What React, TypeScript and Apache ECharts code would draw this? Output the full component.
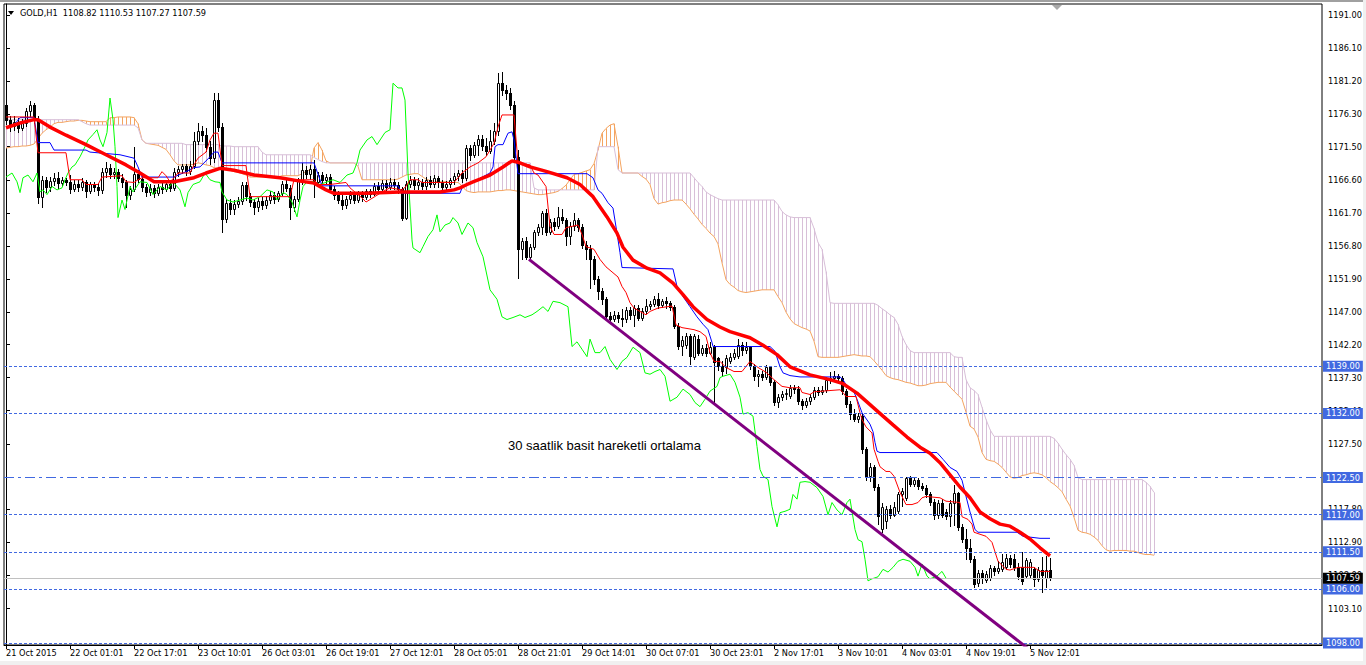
import React, { useEffect, useRef } from 'react';
import * as echarts from 'echarts';

const symbolName = 'GOLD,H1';
const lastOHLC = [1108.82, 1110.53, 1107.27, 1107.59];
const noteText = '30 saatlik basit hareketli ortalama';
const notePos = [125.5, 1127.2];

const timeTickBars = [0, 16, 32, 48, 64, 80, 96, 112, 128, 144, 160, 176, 192, 208, 224, 240, 256];
const timeTickLabels = ['21 Oct 2015', '22 Oct 01:01', '22 Oct 17:01', '23 Oct 10:01', '26 Oct 03:01', '26 Oct 19:01', '27 Oct 12:01', '28 Oct 05:01', '28 Oct 21:01', '29 Oct 14:01', '30 Oct 07:01', '30 Oct 23:01', '2 Nov 17:01', '3 Nov 10:01', '4 Nov 03:01', '4 Nov 19:01', '5 Nov 12:01'];
const priceTicks = [1191.0, 1186.1, 1181.2, 1176.3, 1171.5, 1166.6, 1161.7, 1156.8, 1151.9, 1147.0, 1142.2, 1137.3, 1132.4, 1127.5, 1122.6, 1117.8, 1112.9, 1108.0, 1103.1];

const dottedLevels = [1139.0, 1132.0, 1117.0, 1111.5, 1106.0, 1098.0];
const dashDotLevel = 1122.5;
const bidPrice = 1107.59;

// [open, close, low, high] per H1 bar
const candles = [
[1177.6,1175.5,1174.8,1178.2],[1175.5,1174.5,1173.8,1176.0],[1174.5,1175.2,1174.0,1176.0],[1175.2,1174.3,1173.6,1175.8],[1174.3,1175.0,1173.9,1175.6],
[1175.0,1176.8,1174.6,1177.3],[1176.8,1177.6,1176.0,1178.2],[1177.6,1175.6,1175.0,1178.0],[1175.6,1164.0,1163.2,1176.0],[1164.0,1166.5,1162.5,1167.2],
[1166.5,1165.6,1164.8,1167.0],[1165.6,1166.4,1165.0,1167.0],[1166.4,1166.9,1165.8,1167.6],[1166.9,1166.1,1165.4,1167.8],[1166.1,1166.6,1165.7,1167.0],
[1166.6,1166.3,1165.8,1166.9],[1166.3,1165.2,1164.6,1167.3],[1165.2,1166.0,1164.9,1166.6],[1166.0,1165.5,1165.0,1166.5],[1165.5,1166.2,1165.1,1166.8],
[1166.2,1165.0,1164.1,1166.6],[1165.0,1165.9,1164.6,1166.3],[1165.9,1165.6,1165.0,1166.3],[1165.6,1165.1,1164.4,1166.0],[1165.1,1167.8,1164.7,1168.3],
[1167.8,1168.4,1167.0,1169.3],[1168.4,1167.5,1166.9,1168.9],[1167.5,1167.8,1166.8,1168.4],[1167.8,1166.9,1166.4,1168.2],[1166.9,1166.2,1165.6,1167.4],
[1166.2,1164.3,1162.6,1166.6],[1164.3,1165.2,1163.8,1165.7],[1165.2,1167.5,1164.9,1171.5],[1167.5,1166.7,1166.2,1168.0],[1166.7,1165.5,1165.0,1167.2],
[1165.5,1164.8,1164.2,1166.0],[1164.8,1165.4,1164.3,1165.9],[1165.4,1164.6,1164.0,1165.8],[1164.6,1165.6,1164.3,1166.0],[1165.6,1165.3,1164.7,1166.2],
[1165.3,1165.9,1164.9,1166.4],[1165.9,1165.4,1164.9,1166.3],[1165.4,1167.8,1165.1,1168.3],[1167.8,1168.2,1167.2,1168.7],[1168.2,1168.6,1167.6,1169.0],
[1168.6,1167.9,1167.3,1169.0],[1167.9,1168.7,1167.5,1169.4],[1168.7,1172.4,1168.3,1173.7],[1172.4,1173.8,1171.9,1175.0],[1173.8,1173.2,1172.4,1174.6],
[1173.2,1171.5,1170.8,1174.2],[1171.5,1169.8,1169.0,1172.3],[1169.8,1178.4,1169.3,1179.5],[1178.4,1174.4,1173.8,1179.4],[1174.4,1160.8,1158.8,1175.0],
[1160.8,1163.2,1160.3,1163.8],[1163.2,1162.2,1161.5,1163.8],[1162.2,1163.0,1161.6,1163.6],[1163.0,1163.4,1162.5,1164.0],[1163.4,1165.8,1163.0,1166.3],
[1165.8,1164.2,1163.6,1166.2],[1164.2,1163.3,1162.7,1164.6],[1163.3,1162.5,1161.6,1163.8],[1162.5,1163.4,1162.0,1163.9],[1163.4,1162.8,1162.2,1164.0],
[1162.8,1163.6,1162.4,1164.2],[1163.6,1164.4,1163.2,1164.9],[1164.4,1163.8,1163.2,1164.8],[1163.8,1164.6,1163.5,1165.0],[1164.6,1166.0,1164.3,1166.4],
[1166.0,1165.4,1164.9,1166.5],[1165.4,1162.6,1160.8,1165.8],[1162.6,1163.8,1162.0,1164.2],[1163.8,1166.4,1163.5,1166.8],[1166.4,1168.0,1165.9,1169.1],
[1168.0,1167.4,1166.8,1168.6],[1167.4,1168.2,1166.7,1168.8],[1168.2,1166.2,1164.0,1169.6],[1166.2,1167.3,1165.7,1167.8],[1167.3,1166.6,1166.0,1167.7],
[1166.6,1167.0,1166.0,1167.5],[1167.0,1165.3,1164.8,1167.4],[1165.3,1164.3,1163.8,1165.7],[1164.3,1163.6,1163.1,1164.9],[1163.6,1162.8,1162.3,1164.3],
[1162.8,1163.7,1162.4,1164.2],[1163.7,1164.4,1163.2,1164.9],[1164.4,1163.6,1163.1,1164.8],[1163.6,1164.5,1163.3,1165.0],[1164.5,1164.0,1163.5,1164.9],
[1164.0,1164.9,1163.7,1165.3],[1164.9,1164.5,1164.0,1165.3],[1164.5,1165.7,1164.3,1166.1],[1165.7,1165.3,1164.8,1166.3],[1165.3,1166.1,1165.0,1166.6],
[1166.1,1165.6,1165.1,1166.6],[1165.6,1166.3,1165.2,1166.8],[1166.3,1165.8,1165.3,1166.7],[1165.8,1165.3,1164.6,1166.2],[1165.3,1161.0,1160.6,1165.6],
[1161.0,1166.0,1160.8,1166.4],[1166.0,1166.6,1165.5,1167.1],[1166.6,1165.8,1165.3,1167.0],[1165.8,1166.3,1165.2,1166.8],[1166.3,1165.7,1165.2,1166.7],
[1165.7,1166.6,1165.3,1167.0],[1166.6,1166.0,1165.5,1167.1],[1166.0,1166.8,1165.6,1167.3],[1166.8,1166.2,1165.6,1167.2],[1166.2,1165.5,1165.0,1166.6],
[1165.5,1166.0,1165.1,1166.4],[1166.0,1166.5,1165.6,1166.9],[1166.5,1167.2,1166.0,1167.6],[1167.2,1167.6,1166.6,1168.0],[1167.6,1166.9,1166.3,1168.0],
[1166.9,1171.3,1166.6,1171.8],[1171.3,1170.2,1169.6,1171.8],[1170.2,1171.7,1169.9,1172.2],[1171.7,1172.7,1170.2,1173.3],[1172.7,1171.6,1171.0,1173.2],
[1171.6,1170.8,1170.3,1172.8],[1170.8,1172.3,1170.5,1173.9],[1172.3,1173.8,1171.9,1175.0],[1173.8,1181.0,1173.2,1182.4],[1181.0,1179.9,1179.2,1182.6],
[1179.9,1179.4,1178.6,1180.6],[1179.4,1177.7,1177.1,1180.2],[1177.7,1170.0,1169.3,1178.3],[1170.0,1156.3,1152.1,1171.0],[1156.3,1157.6,1154.8,1158.0],
[1157.6,1155.2,1154.8,1158.1],[1155.2,1156.7,1154.8,1157.1],[1156.7,1158.8,1156.3,1159.1],[1158.8,1159.6,1158.4,1160.0],[1159.6,1161.7,1158.5,1162.0],
[1161.7,1158.9,1158.4,1162.3],[1158.9,1160.3,1158.5,1160.8],[1160.3,1159.7,1159.2,1160.9],[1159.7,1161.1,1159.4,1162.5],[1161.1,1160.7,1160.2,1162.2],
[1160.7,1158.3,1157.0,1161.0],[1158.3,1159.7,1157.1,1160.4],[1159.7,1160.6,1159.2,1161.7],[1160.6,1159.6,1159.0,1161.0],[1159.6,1157.0,1156.5,1160.0],
[1157.0,1156.4,1154.8,1157.6],[1156.4,1154.8,1150.6,1157.0],[1154.8,1151.9,1151.2,1155.3],[1151.9,1150.1,1148.9,1152.4],[1150.1,1148.9,1148.2,1150.5],
[1148.9,1146.4,1145.9,1149.3],[1146.4,1146.0,1145.4,1147.0],[1146.0,1146.6,1145.7,1147.1],[1146.6,1146.1,1145.6,1147.0],[1146.1,1146.0,1144.9,1147.5],
[1146.0,1147.3,1145.5,1147.7],[1147.3,1146.5,1146.0,1147.8],[1146.5,1147.6,1144.9,1148.0],[1147.6,1146.2,1145.8,1148.0],[1146.2,1147.2,1145.9,1147.6],
[1147.2,1147.9,1146.9,1148.9],[1147.9,1148.2,1147.4,1148.6],[1148.2,1148.9,1147.9,1149.4],[1148.9,1148.1,1147.6,1149.9],[1148.1,1148.6,1147.7,1149.0],
[1148.6,1148.3,1147.6,1149.2],[1148.3,1147.7,1147.3,1148.7],[1147.7,1145.0,1144.6,1148.0],[1145.0,1142.0,1141.5,1145.4],[1142.0,1142.9,1140.6,1143.4],
[1142.2,1143.4,1141.7,1143.9],[1143.4,1140.5,1139.3,1143.7],[1140.4,1143.4,1140.0,1143.8],[1143.0,1141.0,1140.6,1143.6],[1141.0,1141.7,1140.6,1142.2],
[1141.7,1141.0,1140.5,1142.3],[1141.0,1141.9,1140.8,1142.5],[1141.9,1139.6,1133.6,1142.2],[1140.2,1139.0,1138.5,1140.4],[1139.0,1138.3,1137.5,1139.8],
[1138.9,1140.2,1138.0,1140.6],[1139.8,1140.4,1139.4,1140.9],[1140.4,1141.0,1140.0,1141.5],[1140.5,1142.2,1140.2,1143.0],[1142.2,1141.4,1140.7,1142.6],
[1141.4,1141.9,1141.0,1142.6],[1141.9,1139.0,1138.6,1142.0],[1139.0,1137.5,1137.0,1139.3],[1137.5,1137.9,1136.0,1138.4],[1137.9,1137.4,1136.9,1138.3],
[1137.4,1138.8,1137.1,1139.1],[1138.8,1136.6,1136.2,1139.0],[1136.6,1133.7,1133.2,1136.9],[1133.7,1134.4,1132.9,1134.8],[1134.4,1134.8,1134.0,1135.3],
[1134.8,1135.0,1134.2,1135.6],[1134.6,1135.8,1134.3,1136.2],[1135.8,1135.6,1135.0,1136.2],[1135.6,1133.8,1133.4,1136.0],[1133.8,1133.2,1132.6,1134.2],
[1133.2,1133.9,1132.9,1134.3],[1133.8,1134.5,1133.4,1134.9],[1134.5,1135.5,1134.2,1135.9],[1135.5,1135.2,1134.7,1135.9],[1135.2,1135.5,1134.9,1136.0],
[1135.5,1137.0,1135.2,1137.4],[1137.0,1137.3,1136.5,1138.1],[1137.3,1137.6,1136.9,1138.3],[1137.6,1137.2,1136.8,1137.9],[1137.2,1135.3,1134.9,1137.5],
[1135.3,1133.4,1133.0,1135.6],[1133.4,1131.9,1131.1,1133.8],[1131.9,1131.2,1130.8,1132.6],[1131.2,1131.6,1130.7,1132.1],[1131.6,1126.7,1126.2,1132.0],
[1126.7,1122.7,1122.2,1127.0],[1122.7,1124.0,1122.0,1124.6],[1124.0,1121.1,1120.7,1124.4],[1121.1,1116.8,1115.6,1121.5],[1114.9,1118.2,1114.4,1118.7],
[1116.0,1117.8,1115.0,1118.3],[1117.8,1117.0,1116.5,1118.4],[1117.0,1118.2,1116.8,1118.9],[1117.6,1120.0,1117.3,1120.4],[1120.0,1120.5,1118.3,1121.0],
[1119.5,1122.4,1119.2,1122.6],[1122.4,1121.6,1121.2,1122.7],[1121.6,1122.2,1121.2,1122.6],[1122.2,1121.2,1120.8,1122.5],[1121.2,1121.0,1120.6,1121.7],
[1121.0,1120.0,1119.6,1121.4],[1120.0,1118.9,1118.4,1120.4],[1118.9,1116.9,1116.4,1119.3],[1116.9,1118.8,1116.5,1119.2],[1118.8,1117.0,1116.6,1119.3],
[1117.4,1116.8,1116.3,1117.8],[1116.8,1118.7,1115.3,1119.1],[1118.7,1120.2,1115.4,1121.4],[1120.2,1115.2,1114.8,1120.4],[1115.2,1113.4,1113.0,1115.6],
[1113.4,1112.0,1110.4,1114.9],[1112.0,1110.5,1110.0,1113.4],[1110.5,1106.7,1106.3,1110.9],[1106.9,1108.4,1106.5,1108.8],[1108.4,1107.6,1106.9,1108.8],
[1107.3,1108.2,1107.0,1108.6],[1107.6,1109.1,1107.3,1109.5],[1109.1,1108.6,1108.1,1109.4],[1108.6,1109.1,1108.3,1110.1],[1109.0,1110.0,1108.7,1111.2],
[1109.3,1110.6,1109.0,1111.2],[1110.6,1109.7,1109.3,1111.0],[1110.4,1109.2,1108.8,1111.2],[1109.2,1107.9,1107.5,1109.8],[1109.2,1107.2,1106.8,1111.4],
[1107.9,1110.3,1107.6,1110.6],[1108.0,1110.0,1107.6,1110.5],[1108.9,1107.5,1106.4,1109.3],[1107.5,1108.8,1107.2,1109.2],[1108.8,1108.0,1105.5,1110.8],
[1107.6,1108.8,1106.3,1110.9],[1108.82,1107.59,1107.27,1110.53]
];

// 30-period simple moving average, [bar, price]
const sma30 = [
[0,1174.3],[3.5,1175.0],[7,1175.5],[8,1175.5],[11,1174.4],[15,1173.2],[20,1171.8],[25,1170.3],[30,1168.8],[33.5,1167.6],
[37,1166.3],[42,1166.3],[47,1166.9],[50,1167.6],[53.5,1168.3],[57,1168.0],[62,1167.3],[68.5,1166.9],[73.5,1166.4],[77,1166.1],
[80,1165.1],[82,1164.6],[90,1164.6],[98.5,1164.8],[108.5,1164.8],[112,1165.1],[113.5,1165.4],[115.25,1165.9],[116.75,1166.3],[118.5,1166.7],
[121,1167.3],[124.25,1168.5],[126.5,1169.4],[128,1169.2],[131,1168.5],[135.25,1167.8],[140.25,1166.9],[143.5,1165.9],[146.75,1164.1],[150.25,1161.1],
[152.75,1158.7],[154.25,1156.6],[156.75,1154.7],[160.25,1153.5],[163.5,1152.8],[166.75,1151.3],[169.25,1149.6],[171.75,1147.8],[175.25,1145.9],[178.5,1144.8],
[181,1144.1],[186,1143.2],[189.25,1142.1],[192.75,1140.7],[196,1138.9],[201,1137.7],[206,1137.0],[209.25,1136.4],[212.75,1135.0],[216,1133.3],
[219.25,1131.6],[221.75,1130.3],[225.25,1128.5],[228.5,1127.0],[231,1126.1],[233.5,1124.7],[236,1122.9],[238.5,1121.1],[241,1119.5],[243.5,1117.4],
[246,1116.4],[248.5,1115.6],[251,1115.3],[253.5,1114.4],[256,1113.4],[258.5,1112.1],[261,1110.9]
];

// Ichimoku Tenkan-sen (9)
const tenkan = [
[0,1175.9],[7,1175.9],[8,1170.6],[15,1170.6],[16,1166.6],[19,1166.6],[20,1165.9],[23,1165.9],[24,1167.0],[29,1167.2],
[30,1166.3],[32,1166.2],[33,1166.6],[34,1166.9],[38,1166.9],[39,1167.8],[40,1167.2],[41,1166.3],[42,1166.9],[43,1167.6],
[46,1167.6],[47,1168.8],[48,1169.8],[50,1170.7],[51,1172.5],[52,1173.5],[53,1173.5],[54,1168.7],[60,1168.7],[61,1164.1],
[71,1164.1],[72,1166.6],[77,1166.6],[78,1165.9],[81,1165.9],[85,1166.2],[86,1165.4],[89,1163.9],[90,1163.3],[93,1164.4],
[94,1164.8],[96,1165.4],[99,1165.1],[100,1165.6],[101,1166.6],[103,1166.6],[104,1166.2],[112,1166.2],[113,1166.9],[114,1167.6],
[116,1168.5],[118,1169.1],[120,1170.0],[122,1172.0],[123,1174.4],[124,1176.2],[127,1176.2],[128,1169.1],[131,1168.8],[132,1167.6],
[133,1167.3],[135,1165.6],[136,1159.7],[137,1158.5],[139,1158.5],[140,1159.5],[143,1159.9],[144,1158.5],[145,1156.7],[147,1156.3],
[148.5,1154.8],[150,1153.7],[153,1152.2],[154,1150.8],[155,1149.9],[156,1148.4],[157,1147.6],[158.5,1147.1],[160,1146.6],[161,1147.1],
[163,1147.6],[166.5,1147.9],[167.5,1145.1],[169,1144.7],[172,1144.4],[173.5,1144.1],[175,1143.4],[176,1141.0],[177,1139.7],[178.5,1139.7],
[180,1138.8],[182,1138.2],[184,1138.2],[186,1139.7],[188,1138.8],[190,1138.1],[192,1137.0],[194,1136.0],[196,1135.8],[198.5,1135.8],
[199,1135.1],[201,1134.8],[202,1135.2],[208.5,1135.5],[209.25,1135.1],[210,1134.5],[212.5,1134.5],[213.5,1132.1],[214,1131.1],[215,1130.0],
[216.5,1129.1],[217,1126.7],[218,1124.9],[218.5,1124.1],[220,1123.4],[221,1123.4],[222,1122.7],[223,1121.1],[223.5,1120.3],[225,1118.5],
[226.5,1118.5],[228,1118.8],[229,1119.5],[230,1119.7],[233.5,1119.5],[235,1119.0],[238.5,1118.8],[239,1116.7],[240.5,1116.3],[241.5,1115.6],
[242,1114.4],[245,1113.8],[246.5,1112.9],[248,1110.1],[250,1108.9],[251,1108.8],[253,1109.2],[257,1109.2],[258.5,1108.6],[261,1108.6]
];

// Ichimoku Kijun-sen (26)
const kijun = [
[0,1174.3],[2,1174.7],[3.5,1175.8],[7,1175.8],[8,1172.1],[11,1172.1],[12,1171.0],[20,1171.0],[21,1170.7],[28.5,1170.3],
[32,1169.8],[33,1168.5],[34,1167.0],[42,1167.0],[45,1167.8],[47,1168.4],[48.5,1168.5],[51,1170.0],[52,1170.7],[53,1170.7],
[54,1169.1],[77,1169.1],[78.5,1166.6],[79,1165.7],[98,1165.7],[99,1164.6],[113.5,1164.6],[114,1165.4],[115.25,1165.9],[117.75,1166.6],
[121,1167.6],[121.75,1168.5],[122.25,1171.5],[123,1171.8],[124.25,1171.8],[124.75,1172.5],[125.5,1173.5],[126.5,1173.7],[127,1172.5],[128,1167.5],
[145.25,1167.5],[146.75,1166.9],[148,1165.1],[149,1164.6],[150.5,1163.2],[151.75,1162.4],[152.75,1158.7],[153.5,1155.8],[154,1153.6],[166.75,1153.4],
[167.75,1150.8],[169.25,1149.3],[171,1147.8],[172.75,1146.3],[174.25,1145.2],[175.5,1144.4],[176.5,1142.5],[176.75,1141.9],[191,1141.9],[192.25,1141.2],
[193.5,1138.9],[194.25,1138.0],[196,1137.6],[198.5,1137.4],[208.5,1137.4],[209.25,1137.0],[210.25,1136.0],[211.75,1135.5],[212.75,1134.1],[214,1132.1],
[216,1130.4],[216.75,1129.3],[217.25,1127.7],[217.75,1126.4],[218.5,1126.2],[232.75,1126.2],[234.25,1125.2],[236,1124.0],[237.75,1123.4],[239,1122.1],
[239.75,1120.3],[241,1117.4],[242.25,1114.8],[243,1114.4],[252.75,1114.4],[254.25,1113.8],[258.5,1113.5],[261,1113.5]
];

// Ichimoku Chikou span (close drawn 26 bars back)
const chikou = [
[0,1167.0],[1.5,1167.6],[2.75,1166.3],[3.5,1164.7],[4.25,1166.9],[5.5,1167.3],[6.75,1166.3],[7.75,1167.6],[8.5,1164.8],[9.25,1165.1],
[10.25,1164.4],[11.5,1165.6],[12.75,1165.1],[14,1165.4],[14.75,1166.6],[15.5,1167.6],[16.5,1168.5],[17.25,1168.8],[18.5,1170.0],[19.75,1171.5],
[20.5,1172.5],[21.75,1173.3],[22.75,1174.0],[23.5,1172.5],[24.25,1171.5],[25.25,1173.6],[26,1178.7],[26.75,1175.5],[27.25,1171.5],[27.75,1165.6],
[28,1161.0],[29,1163.6],[29.75,1162.2],[31,1165.6],[31.75,1164.8],[33.5,1166.3],[35.25,1166.2],[36.75,1164.4],[38.5,1165.6],[40.25,1165.1],
[41.75,1166.3],[43.5,1165.1],[44.75,1162.6],[45.5,1164.7],[46.75,1165.9],[48.5,1166.3],[49.75,1167.6],[51,1166.6],[52.25,1166.3],[53.5,1166.2],
[54,1164.8],[55.25,1163.6],[56.75,1163.3],[58.5,1163.6],[60.25,1163.9],[61.75,1163.6],[63.5,1164.1],[65.25,1165.1],[66.75,1164.8],[67.75,1163.6],
[69.25,1164.7],[70.25,1164.4],[71.5,1163.3],[72.75,1161.1],[73.5,1163.6],[74.25,1165.6],[75.25,1166.3],[76.75,1166.3],[78.5,1165.9],[81.75,1166.6],
[83.5,1166.2],[85.25,1167.3],[86.75,1167.6],[87.75,1169.1],[88.5,1171.0],[90.25,1172.5],[91.5,1173.0],[92.75,1171.8],[94.75,1173.6],[96,1174.0],
[96.75,1180.9],[98,1180.2],[99,1180.2],[99.75,1178.4],[100.5,1167.6],[101.5,1157.7],[101.75,1156.5],[103.5,1155.8],[104.25,1156.7],[105.5,1158.2],
[106.75,1159.2],[107.75,1161.4],[108.5,1158.9],[109.75,1159.9],[111,1160.2],[111.75,1161.0],[113,1160.2],[114,1158.5],[115.5,1160.2],[116.75,1159.5],
[117.75,1157.3],[119.25,1155.2],[121,1150.3],[122.75,1148.9],[124,1146.3],[125.25,1145.9],[126.75,1146.2],[128.5,1146.6],[129.75,1146.2],[131.5,1146.6],
[132.75,1147.1],[134.25,1147.8],[135.5,1147.1],[136.75,1148.6],[138.5,1148.4],[140.5,1147.8],[141.5,1141.9],[142.75,1142.6],[144,1141.5],[145.25,1140.4],
[146,1143.0],[147.25,1141.0],[148.5,1141.0],[149.75,1141.9],[151,1140.0],[152.75,1138.5],[154,1139.7],[155.25,1140.3],[156.75,1141.8],[158.5,1141.0],
[159.75,1138.0],[161,1137.8],[162.25,1138.2],[163.5,1138.5],[164.75,1137.5],[166,1133.8],[167.75,1134.4],[169.25,1135.6],[171,1134.8],[172.25,1133.6],
[173.5,1133.0],[174.75,1134.1],[176,1135.3],[177.75,1136.0],[178.5,1137.3],[179.25,1137.5],[181,1137.8],[182.25,1136.6],[183.5,1134.4],[184.25,1131.9],
[185.5,1132.1],[186.75,1131.6],[187.75,1127.1],[188.5,1123.7],[189.25,1122.7],[190.5,1122.2],[191.5,1118.2],[192.75,1115.2],[193.5,1117.3],[194.75,1117.5],
[196,1117.8],[196.75,1120.0],[197.75,1119.3],[198.5,1121.8],[199.75,1121.9],[201,1121.8],[202.75,1121.0],[204.25,1119.7],[205.5,1117.0],[206.5,1118.8],
[207.75,1117.7],[209,1117.0],[210.25,1118.8],[211,1119.3],[212.25,1114.8],[213,1113.3],[214,1113.0],[214.75,1110.4],[215.5,1107.2],[216.5,1107.5],
[218,1107.8],[219.25,1108.9],[220.5,1108.5],[221.75,1109.2],[223,1110.1],[224.25,1110.4],[226,1110.1],[227.25,1109.2],[228,1107.9],[229,1109.7],
[230.25,1107.9],[231,1107.5],[232.75,1107.9],[234,1108.6],[235,1107.6]
];

// Senkou span A, one value per bar (bars 0..287, 26 bars projected ahead)
const senkouA = [
1171.3,1171.4,1171.5,1171.5,1171.6,1171.6,1171.7,1171.9,1172.7,1173.5,
1174.0,1174.4,1174.9,1175.1,1175.1,1175.2,1175.3,1175.3,1175.4,1175.4,
1175.3,1175.2,1175.2,1175.2,1175.2,1175.2,1175.8,1175.8,1175.9,1175.9,
1175.9,1175.9,1175.8,1174.9,1172.5,1172.0,1171.9,1171.8,1171.7,1171.4,
1171.1,1170.3,1169.4,1168.8,1168.8,1168.8,1168.8,1168.9,1169.1,1169.0,
1168.8,1168.7,1168.4,1168.3,1168.2,1168.1,1168.0,1167.8,1167.7,1167.5,
1167.3,1167.0,1167.0,1167.0,1167.0,1167.0,1167.0,1167.0,1167.0,1167.2,
1167.2,1167.2,1167.2,1167.2,1167.5,1167.8,1168.1,1171.3,1172.1,1171.0,
1169.4,1169.1,1169.1,1169.1,1169.1,1169.1,1169.1,1169.1,1168.6,1166.6,
1166.6,1166.6,1166.6,1166.6,1166.6,1166.6,1166.6,1166.6,1166.7,1167.0,
1167.3,1167.4,1167.5,1167.5,1167.1,1166.7,1166.5,1166.4,1166.3,1166.3,
1166.3,1166.2,1166.2,1166.2,1165.7,1165.0,1164.8,1164.7,1164.8,1164.8,
1164.8,1164.8,1164.9,1165.0,1165.0,1165.1,1165.1,1165.0,1164.9,1164.8,
1164.7,1164.6,1164.5,1164.4,1164.4,1164.5,1164.6,1164.7,1164.9,1165.3,
1165.8,1166.6,1167.4,1167.5,1167.7,1167.9,1168.1,1169.0,1171.0,1173.5,
1174.2,1174.7,1174.9,1171.5,1167.6,1167.6,1167.6,1167.6,1167.6,1167.1,
1166.7,1165.9,1163.8,1163.0,1163.2,1163.3,1163.5,1163.6,1163.6,1163.6,
1163.0,1162.3,1161.5,1160.8,1160.0,1159.4,1158.7,1158.2,1157.1,1154.3,
1151.8,1151.1,1150.7,1150.2,1150.0,1149.9,1150.0,1150.1,1150.2,1150.3,
1150.3,1150.3,1150.3,1149.3,1148.4,1147.0,1146.0,1145.3,1145.0,1144.7,
1144.5,1144.2,1142.7,1140.4,1140.3,1140.3,1140.3,1140.3,1140.3,1140.4,
1140.5,1140.6,1140.7,1140.6,1140.5,1140.5,1140.4,1139.8,1139.1,1138.4,
1137.6,1137.3,1137.1,1137.0,1136.8,1136.6,1136.5,1136.3,1136.1,1136.1,
1136.2,1136.4,1136.5,1136.6,1136.6,1136.6,1135.9,1135.3,1134.7,1134.1,
1132.2,1130.1,1129.7,1128.5,1126.2,1125.2,1125.0,1124.9,1124.5,1124.0,
1123.3,1122.6,1122.4,1122.5,1122.8,1122.9,1123.1,1123.2,1123.1,1122.9,
1122.5,1121.9,1121.5,1121.0,1120.4,1119.3,1118.3,1116.6,1114.7,1114.4,
1114.3,1114.1,1113.7,1113.2,1112.4,1111.8,1111.6,1111.7,1111.7,1111.7,
1111.7,1111.6,1111.6,1111.4,1111.2,1111.1,1111.1,1111.0
];

// Senkou span B, one value per bar (bars 0..287)
const senkouB = [
1175.5,1175.5,1175.5,1175.5,1175.5,1175.5,1175.5,1175.5,1175.5,1175.5,
1175.5,1175.5,1175.5,1175.5,1175.5,1175.5,1175.5,1175.5,1175.5,1175.2,
1174.9,1174.7,1174.7,1174.7,1174.7,1174.7,1174.7,1174.7,1174.7,1174.7,
1174.7,1174.7,1174.7,1174.3,1172.5,1172.0,1172.0,1172.0,1172.0,1172.0,
1172.0,1172.0,1172.0,1172.0,1172.0,1171.8,1171.8,1171.8,1171.8,1171.8,
1171.8,1171.8,1171.8,1171.8,1171.6,1171.6,1171.6,1171.5,1171.5,1171.5,
1171.5,1171.5,1171.5,1171.5,1170.7,1170.3,1170.3,1170.3,1170.3,1170.3,
1170.3,1170.3,1170.3,1170.3,1170.3,1170.3,1170.3,1169.9,1169.6,1169.3,
1169.1,1169.1,1169.1,1169.1,1169.1,1169.1,1169.1,1169.1,1169.1,1169.1,
1169.1,1169.1,1169.1,1169.1,1169.1,1169.1,1169.1,1169.1,1169.1,1169.1,
1169.1,1169.1,1169.1,1169.1,1169.1,1169.1,1169.1,1169.1,1169.1,1169.1,
1169.1,1169.1,1169.1,1169.1,1169.1,1169.1,1169.1,1169.1,1169.1,1169.1,
1169.1,1169.1,1169.1,1169.1,1169.1,1169.1,1169.1,1169.1,1169.1,1169.1,
1169.1,1169.1,1165.4,1165.1,1165.1,1165.1,1165.1,1165.1,1165.1,1165.1,
1165.1,1165.1,1165.1,1165.1,1165.1,1165.1,1165.1,1165.1,1171.5,1171.5,
1171.5,1171.5,1171.5,1168.1,1167.6,1167.6,1167.6,1167.6,1167.6,1167.6,
1167.6,1167.6,1167.6,1167.6,1167.6,1167.6,1167.6,1167.6,1167.6,1167.6,
1167.6,1167.6,1166.9,1166.2,1165.6,1164.8,1164.4,1164.1,1163.8,1163.6,
1163.6,1163.6,1163.6,1163.6,1163.6,1163.6,1163.6,1163.6,1163.6,1163.6,
1163.6,1163.6,1163.6,1162.9,1161.9,1161.4,1161.1,1161.0,1161.0,1161.0,
1161.0,1161.0,1159.4,1157.3,1156.3,1153.0,1148.4,1148.3,1148.3,1148.3,
1148.3,1148.3,1148.3,1148.3,1148.3,1148.3,1148.3,1148.3,1148.0,1147.5,
1147.1,1146.6,1146.2,1145.2,1143.4,1142.2,1141.3,1141.0,1141.0,1141.0,
1141.0,1141.0,1141.0,1141.0,1141.0,1141.0,1141.0,1140.4,1140.3,1140.3,
1137.0,1135.8,1135.4,1134.8,1132.9,1131.1,1129.6,1128.6,1128.6,1128.6,
1128.6,1128.6,1128.6,1128.6,1128.6,1128.6,1128.6,1128.6,1128.6,1128.6,
1128.6,1128.6,1128.3,1127.6,1126.7,1125.9,1125.2,1124.3,1122.5,1122.2,
1122.2,1122.2,1122.2,1122.2,1122.2,1122.2,1122.2,1122.2,1122.2,1122.2,
1122.2,1122.2,1122.2,1122.2,1122.2,1121.8,1121.2,1120.3
];

// Hand-drawn falling trend line (two anchor points)
const trendLine = [[130.75, 1154.8], [260, 1095.1]];

const UI_FONT = 'DejaVu Sans';
const FS = 8.2;

function buildOption() {
  const hatchData = senkouA.map((a, i) => [i, a, senkouB[i]]);
  const candleData = candles.map((r, i) => [i, r[0], r[1], r[2], r[3]]);
  const lineBase = {
    type: 'line',
    showSymbol: false,
    symbol: 'none',
    silent: true,
    animation: false,
  };
  const levelLabel = {
    show: true,
    position: 'end',
    distance: 1,
    color: '#fff',
    backgroundColor: '#4169E1',
    padding: [2, 3, 1, 3],
    fontSize: FS,
    fontFamily: UI_FONT,
    formatter: (p: any) => Number(p.value).toFixed(2),
  };
  return {
    animation: false,
    backgroundColor: '#ffffff',
    grid: {
      left: 4, top: 4, width: 1318, height: 641,
      show: true, borderColor: '#000', borderWidth: 1, backgroundColor: '#fff',
    },
    xAxis: {
      type: 'value', min: -0.5, max: 329,
      splitLine: { show: false },
      axisLine: { show: true, lineStyle: { color: '#000', width: 1 } },
      axisTick: { show: true, length: 4, lineStyle: { color: '#000' }, customValues: timeTickBars },
      axisLabel: {
        show: true, customValues: timeTickBars, align: 'left', margin: 4,
        color: '#000', fontSize: FS, fontFamily: UI_FONT,
        formatter: (v: number) => {
          const k = timeTickBars.indexOf(Math.round(v));
          return k >= 0 ? timeTickLabels[k] : '';
        },
      },
    },
    yAxis: {
      type: 'value', position: 'right', min: 1097.7, max: 1192.63,
      splitLine: { show: false },
      axisLine: { show: true, lineStyle: { color: '#000', width: 1 } },
      axisTick: { show: true, length: 4, lineStyle: { color: '#000' }, customValues: priceTicks },
      axisLabel: {
        show: true, customValues: priceTicks, margin: 6,
        color: '#000', fontSize: FS, fontFamily: UI_FONT,
        formatter: (v: number) => v.toFixed(2),
      },
    },
    graphic: [
      { type: 'rect', silent: true, shape: { x: 0, y: 0, width: 1366, height: 2 }, style: { fill: '#a0a0a0' } },
      { type: 'rect', silent: true, shape: { x: 1363, y: 0, width: 3, height: 665 }, style: { fill: '#f0f0f0' } },
      { type: 'rect', silent: true, shape: { x: 0, y: 661, width: 1366, height: 4 }, style: { fill: '#f0f0f0' } },
      { type: 'polygon', silent: true, shape: { points: [[8, 11], [14, 11], [11, 15]] }, style: { fill: '#000' } },
      { type: 'polygon', silent: true, shape: { points: [[1052, 5], [1062, 5], [1057, 10]] }, style: { fill: '#a8a8a8' } },
      {
        type: 'text', silent: true, x: 20, y: 13,
        style: {
          text: symbolName + '  ' + lastOHLC.map((v) => v.toFixed(2)).join(' '),
          fill: '#000', font: `${FS}px "${UI_FONT}"`, textVerticalAlign: 'middle',
        },
      },
    ],
    series: [
      {
        type: 'custom', name: 'cloud', silent: true, animation: false, z: 1,
        data: hatchData,
        encode: { x: 0, y: [1, 2] },
        renderItem: (params: any, api: any) => {
          const i = api.value(0); const a = api.value(1); const b = api.value(2);
          if (Math.abs(a - b) < 0.05) return { type: 'group', children: [] };
          const pa = api.coord([i, a]); const pb = api.coord([i, b]);
          const x = Math.round(pa[0]) + 0.5;
          return {
            type: 'line',
            shape: { x1: x, y1: pa[1], x2: x, y2: pb[1] },
            style: { stroke: a > b ? '#F4A460' : '#D8BFD8', lineWidth: 1 },
          };
        },
      },
      { ...lineBase, name: 'Senkou A', z: 2, data: senkouA.map((v, i) => [i, v]), lineStyle: { color: '#F4A460', width: 1 } },
      { ...lineBase, name: 'Senkou B', z: 2, data: senkouB.map((v, i) => [i, v]), lineStyle: { color: '#D8BFD8', width: 1 } },
      {
        type: 'custom', name: 'GOLD', silent: true, animation: false, z: 3,
        data: candleData,
        encode: { x: 0, y: [1, 2, 3, 4] },
        renderItem: (params: any, api: any) => {
          const i = api.value(0); const o = api.value(1); const c = api.value(2);
          const l = api.value(3); const h = api.value(4);
          const po = api.coord([i, o]); const pc = api.coord([i, c]);
          const pl = api.coord([i, l]); const ph = api.coord([i, h]);
          const px = Math.round(po[0]);
          const top = Math.round(Math.min(po[1], pc[1]));
          const bot = Math.round(Math.max(po[1], pc[1]));
          const wick = {
            type: 'line',
            shape: { x1: px + 0.5, y1: Math.round(ph[1]), x2: px + 0.5, y2: Math.round(pl[1]) + 1 },
            style: { stroke: '#000', lineWidth: 1 },
          };
          const body = c >= o
            ? { type: 'rect', shape: { x: px - 0.5, y: top + 0.5, width: 2, height: Math.max(bot - top, 1) }, style: { fill: '#fff', stroke: '#000', lineWidth: 1 } }
            : { type: 'rect', shape: { x: px - 1, y: top, width: 3, height: Math.max(bot - top, 1) + 1 }, style: { fill: '#000' } };
          return { type: 'group', children: [wick, body] };
        },
      },
      { ...lineBase, name: 'Chikou', z: 4, data: chikou, lineStyle: { color: '#00FF00', width: 1 } },
      { ...lineBase, name: 'Kijun', z: 4, data: kijun, lineStyle: { color: '#0000FF', width: 1 } },
      { ...lineBase, name: 'Tenkan', z: 4, data: tenkan, lineStyle: { color: '#FF0000', width: 1 } },
      { ...lineBase, name: 'SMA30', z: 5, data: sma30, lineStyle: { color: '#FF0000', width: 3.5 } },
      {
        ...lineBase, name: 'Trend', z: 6, data: trendLine, clip: true,
        lineStyle: { color: '#800080', width: 3 },
        markLine: {
          silent: true, animation: false, symbol: ['none', 'none'],
          data: [
            ...dottedLevels.map((v) => ({ yAxis: v, lineStyle: { color: '#4169E1', width: 1, type: [3, 2] }, label: levelLabel })),
            { yAxis: dashDotLevel, lineStyle: { color: '#4169E1', width: 1, type: [10, 4, 3, 4] }, label: levelLabel },
            { yAxis: bidPrice, lineStyle: { color: '#C0C0C0', width: 1, type: 'solid' }, label: { ...levelLabel, backgroundColor: '#000' } },
          ],
        },
        markPoint: {
          silent: true, animation: false, symbol: 'circle', symbolSize: 0,
          data: [{ coord: notePos, value: 0 }],
          label: {
            show: true, position: 'right', distance: 0, color: '#000',
            fontSize: 13, fontFamily: 'Liberation Sans',
            formatter: () => noteText,
          },
        },
      },
    ],
  };
}

export default function App() {
  const ref = useRef<HTMLDivElement>(null);
  useEffect(() => {
    document.body.style.margin = '0';
    const chart = echarts.init(ref.current as HTMLDivElement, null, { renderer: 'svg' });
    chart.setOption(buildOption() as any);
    return () => chart.dispose();
  }, []);
  return (
    <div
      ref={ref}
      style={{ position: 'fixed', left: 0, top: 0, width: 1366, height: 665, background: '#fff' }}
    />
  );
}
